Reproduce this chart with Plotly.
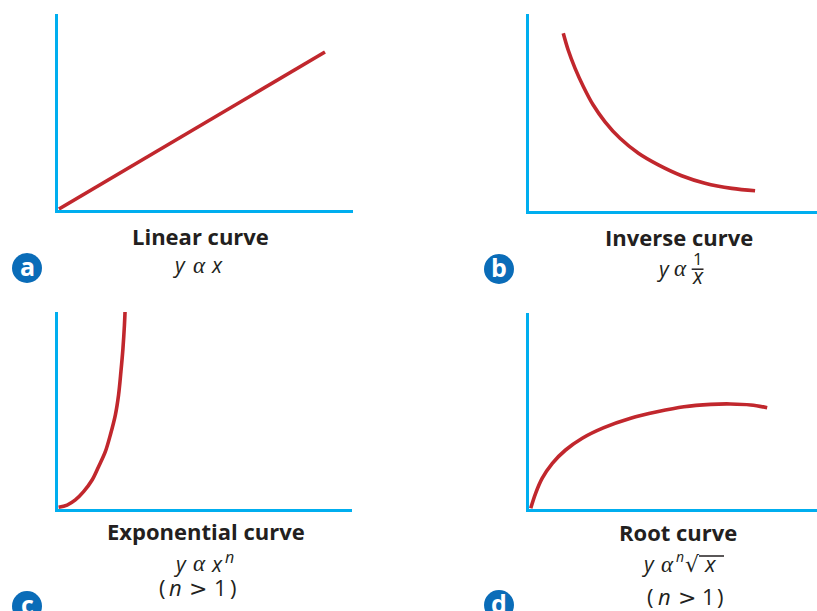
import plotly.graph_objects as go

W, H = 817, 611

# ---- data (each panel on a 0..10 scale) ----
linear_x = [0.03, 9.05]
linear_y = [0.05, 8.06]

inverse_x = [1.19, 1.36, 1.60, 1.89, 2.23, 2.64, 3.16, 3.80, 4.49, 5.30, 6.11, 7.04, 7.85]
inverse_y = [9.02, 8.17, 7.24, 6.31, 5.38, 4.53, 3.69, 2.93, 2.34, 1.79, 1.41, 1.15, 1.03]

exp_x = [0.02, 0.31, 0.59, 0.87, 1.16, 1.38, 1.61, 1.78, 1.95, 2.06, 2.14, 2.21, 2.26, 2.28]
exp_y = [0.09, 0.20, 0.46, 0.88, 1.47, 2.15, 2.91, 3.76, 4.77, 5.79, 6.97, 8.16, 9.34, 10.0]

root_x = [0.06, 0.23, 0.46, 0.81, 1.27, 1.85, 2.60, 3.53, 4.45, 5.38, 6.31, 7.00, 7.70, 8.27]
root_y = [0.04, 0.80, 1.57, 2.33, 3.01, 3.61, 4.15, 4.63, 4.96, 5.22, 5.34, 5.36, 5.31, 5.17]

titles = ["Linear curve", "Inverse curve", "Exponential curve", "Root curve"]
letters = ["a", "b", "c", "d"]

# ---- styling ----
RED = "#c1272d"
CYAN = "#00aeef"
BLUE = "#0a6cb8"
TXT = "#231f20"
FONT = "Open Sans"
SERIF = "Liberation Serif"
# distance of the text-box centre above the baseline, in em
KOFF = {FONT: 0.388, SERIF: 0.3375, "DejaVu Sans": 0.36}


def px(x):
    return x / W


def py(y):
    return 1 - y / H


# plot-area boxes in pixels: left, top, right, bottom
boxes = [(58, 14, 353, 210), (529, 14, 817, 211), (58, 312, 352, 509), (529, 313, 817, 509)]
series = [(linear_x, linear_y), (inverse_x, inverse_y), (exp_x, exp_y), (root_x, root_y)]

fig = go.Figure()
layout_axes = {}
for i, ((xs, ys), (l, t, r, b)) in enumerate(zip(series, boxes)):
    n = "" if i == 0 else str(i + 1)
    fig.add_trace(go.Scatter(x=xs, y=ys, mode="lines", xaxis="x" + n, yaxis="y" + n,
                             line=dict(color=RED, width=3.6, shape="spline", smoothing=1.0),
                             hoverinfo="skip", showlegend=False))
    common = dict(range=[0, 10], showline=True, linecolor=CYAN, linewidth=3,
                  showgrid=False, zeroline=False, showticklabels=False, ticks="",
                  fixedrange=True)
    layout_axes["xaxis" + n] = dict(domain=[px(l), min(1, px(r))], anchor="y" + n, **common)
    layout_axes["yaxis" + n] = dict(domain=[py(b), py(t)], anchor="x" + n, **common)

annotations = []
shapes = []


def glyph(s, cx, base, size, italic=False, bold=False, family=FONT, color=TXT):
    if bold:
        s = "<b>" + s + "</b>"
    if italic:
        s = "<i>" + s + "</i>"
    cy = base - KOFF[family] * size
    annotations.append(dict(x=px(cx), y=py(cy), xref="paper", yref="paper", text=s,
                            showarrow=False, xanchor="center", yanchor="middle",
                            font=dict(family=family, size=size, color=color)))


def hline(x0, x1, y, w=1.5):
    shapes.append(dict(type="line", xref="paper", yref="paper", x0=px(x0), x1=px(x1),
                       y0=py(y), y1=py(y), line=dict(color=TXT, width=w)))


# titles
glyph(titles[0], 200, 244.5, 22, bold=True)
glyph(titles[1], 678.5, 245.5, 22, bold=True)
glyph(titles[2], 206, 539.5, 22, bold=True)
glyph(titles[3], 678, 541, 22, bold=True)

# (a) y α x
glyph("y", 179, 273.5, 21, italic=True)
glyph("α", 199.5, 273.5, 23, italic=True, family=SERIF)
glyph("x", 216.5, 273.5, 21, italic=True)

# (b) y α 1/x
glyph("y", 662.5, 276.7, 21, italic=True)
glyph("α", 680, 276.7, 23, italic=True, family=SERIF)
glyph("1", 698, 265, 17)
hline(691.7, 703.5, 269.2)
glyph("x", 697.5, 284.3, 21, italic=True)

# (c) y α x^n, (n > 1)
glyph("y", 180, 571.7, 21, italic=True)
glyph("α", 199.5, 571.7, 23, italic=True, family=SERIF)
glyph("x", 216.5, 571.7, 21, italic=True)
glyph("n", 229.5, 563.5, 16, italic=True)
for s, cx, it, fam, sz in [("(", 162, False, FONT, 22), ("n", 175.5, True, FONT, 22),
                           ("&gt;", 198, False, "DejaVu Sans", 22), ("1", 220, False, FONT, 22),
                           (")", 233, False, FONT, 22)]:
    glyph(s, cx, 596, sz, italic=it, family=fam)

# (d) y α n√x, (n > 1)
glyph("y", 648, 572, 21, italic=True)
glyph("α", 667, 572, 23, italic=True, family=SERIF)
glyph("n", 680, 562, 14, italic=True)
glyph("√", 692.5, 572.5, 22, family="DejaVu Sans")
glyph("x", 710, 572, 22, italic=True)
hline(699, 724, 556)
for s, cx, it, fam, sz in [("(", 650, False, FONT, 22), ("n", 664, True, FONT, 22),
                           ("&gt;", 687, False, "DejaVu Sans", 22), ("1", 708, False, FONT, 22),
                           (")", 720, False, FONT, 22)]:
    glyph(s, cx, 605, sz, italic=it, family=fam)

# panel letter badges
centers = [(27, 268), (499, 269), (27, 606), (499, 605)]
for (cx, cy), letter in zip(centers, letters):
    rr = 15
    shapes.append(dict(type="circle", xref="paper", yref="paper",
                       x0=px(cx - rr), x1=px(cx + rr), y0=py(cy + rr), y1=py(cy - rr),
                       fillcolor=BLUE, line=dict(width=0)))
    glyph(letter, cx, cy + 8, 25, bold=True, color="white")

fig.update_layout(width=W, height=H, margin=dict(l=0, r=0, t=0, b=0),
                  paper_bgcolor="white", plot_bgcolor="white",
                  annotations=annotations, shapes=shapes, **layout_axes)

fig.write_html("out.html", config={"displayModeBar": False},
               post_script="document.body.style.margin='0px';document.body.style.overflow='hidden';")
